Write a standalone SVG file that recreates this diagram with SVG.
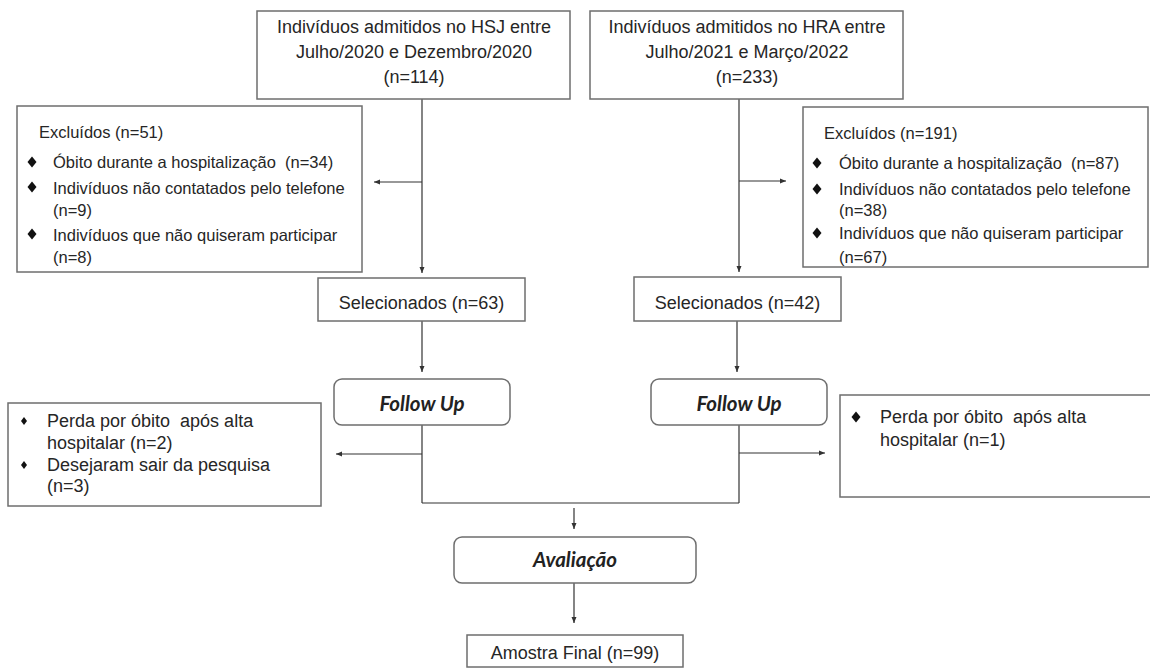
<svg xmlns="http://www.w3.org/2000/svg" width="1150" height="668" viewBox="0 0 1150 668">
<style>
.box{fill:#fff;stroke:#6e6e6e;stroke-width:1.5}
.t{font-family:"Liberation Sans",Arial,sans-serif;fill:#262626;white-space:pre}
.s18{font-size:18px}
.s16{font-size:16.5px}
.c{text-anchor:middle}
.bi{font-family:Lato,"Open Sans",sans-serif;font-weight:bold;font-style:italic;font-size:20.5px;fill:#222;text-anchor:middle}
.ln{fill:none;stroke:#333;stroke-width:1.2}
.ar{marker-end:url(#ah)}
.dm{fill:#111}
</style>
<defs>
<marker id="ah" markerWidth="6" markerHeight="6" refX="6" refY="3" orient="auto" markerUnits="userSpaceOnUse">
<path d="M0,0.5 L6,3 L0,5.5 z" fill="#333"/>
</marker>
<path id="dbig" d="M0,-5.5 L4.5,0 L0,5.5 L-4.5,0 z" class="dm"/>
<path id="dsm" d="M0,-4 L3,0 L0,4 L-3,0 z" class="dm"/>
</defs>

<g id="connectors">
<line class="ln ar" x1="422" y1="99" x2="422" y2="273"/>
<line class="ln ar" x1="422" y1="182" x2="374" y2="182"/>
<line class="ln ar" x1="739" y1="99" x2="739" y2="272"/>
<line class="ln ar" x1="739" y1="181" x2="786" y2="181"/>
<line class="ln ar" x1="422" y1="321" x2="422" y2="372"/>
<line class="ln ar" x1="737" y1="321" x2="737" y2="372"/>
<line class="ln" x1="422" y1="425" x2="422" y2="503"/>
<line class="ln ar" x1="422" y1="454" x2="336" y2="454"/>
<line class="ln" x1="739" y1="425" x2="739" y2="503"/>
<line class="ln ar" x1="739" y1="453" x2="825" y2="453"/>
<line class="ln" x1="422" y1="503" x2="739" y2="503"/>
<line class="ln ar" x1="574" y1="508" x2="574" y2="529"/>
<line class="ln ar" x1="574" y1="583" x2="574" y2="623"/>
</g>

<g id="hsj">
<rect class="box" x="257" y="11" width="313" height="88"/>
<text class="t s18 c" x="414" y="33">Indivíduos admitidos no HSJ entre</text>
<text class="t s18 c" x="414" y="58">Julho/2020 e Dezembro/2020</text>
<text class="t s18 c" x="414" y="83">(n=114)</text>
</g>

<g id="hra">
<rect class="box" x="590" y="11" width="313" height="88"/>
<text class="t s18 c" x="747" y="33">Indivíduos admitidos no HRA entre</text>
<text class="t s18 c" x="747" y="58">Julho/2021 e Março/2022</text>
<text class="t s18 c" x="747" y="83">(n=233)</text>
</g>

<g id="excl-left">
<rect class="box" x="17" y="106" width="345" height="166"/>
<text class="t s16" x="39" y="138">Excluídos (n=51)</text>
<use href="#dbig" x="32" y="162"/>
<use href="#dbig" x="32" y="187"/>
<use href="#dbig" x="32" y="234"/>
<text class="t s16" x="53" y="168" xml:space="preserve">Óbito durante a hospitalização  (n=34)</text>
<text class="t s16" x="53" y="194">Indivíduos não contatados pelo telefone</text>
<text class="t s16" x="53" y="216">(n=9)</text>
<text class="t s16" x="53" y="241">Indivíduos que não quiseram participar</text>
<text class="t s16" x="53" y="263">(n=8)</text>
</g>

<g id="excl-right">
<rect class="box" x="803" y="107" width="345" height="160"/>
<text class="t s16" x="824" y="139">Excluídos (n=191)</text>
<use href="#dbig" x="817" y="163"/>
<use href="#dbig" x="817" y="189"/>
<use href="#dbig" x="817" y="233"/>
<text class="t s16" x="839" y="169" xml:space="preserve">Óbito durante a hospitalização  (n=87)</text>
<text class="t s16" x="839" y="195">Indivíduos não contatados pelo telefone</text>
<text class="t s16" x="839" y="216">(n=38)</text>
<text class="t s16" x="839" y="239">Indivíduos que não quiseram participar</text>
<text class="t s16" x="839" y="263">(n=67)</text>
</g>

<g id="sel-left">
<rect class="box" x="318" y="278" width="207" height="43"/>
<text class="t s18 c" x="421.5" y="309">Selecionados (n=63)</text>
</g>

<g id="sel-right">
<rect class="box" x="634" y="277" width="207" height="44"/>
<text class="t s18 c" x="737.5" y="309">Selecionados (n=42)</text>
</g>

<g id="fu-left">
<rect class="box" x="334" y="379" width="176" height="46" rx="8"/>
<text class="bi" x="422" y="411">Follow Up</text>
</g>

<g id="fu-right">
<rect class="box" x="651" y="379" width="176" height="46" rx="8"/>
<text class="bi" x="739" y="411">Follow Up</text>
</g>

<g id="loss-left">
<rect class="box" x="8" y="403" width="313" height="103"/>
<use href="#dsm" x="24" y="421"/>
<use href="#dsm" x="24" y="465"/>
<text class="t s18" x="47" y="427" xml:space="preserve">Perda por óbito  após alta</text>
<text class="t s18" x="47" y="449">hospitalar (n=2)</text>
<text class="t s18" x="47" y="471">Desejaram sair da pesquisa</text>
<text class="t s18" x="47" y="492">(n=3)</text>
</g>

<g id="loss-right">
<rect class="box" x="840" y="395" width="320" height="102"/>
<use href="#dbig" x="856" y="417"/>
<text class="t s18" x="880" y="423" xml:space="preserve">Perda por óbito  após alta</text>
<text class="t s18" x="880" y="446">hospitalar (n=1)</text>
</g>

<g id="avaliacao">
<rect class="box" x="454" y="537" width="242" height="46" rx="8"/>
<text class="bi" x="575" y="567">Avaliação</text>
</g>

<g id="amostra">
<rect class="box" x="467" y="635" width="216" height="32"/>
<text class="t s18 c" x="575" y="659">Amostra Final (n=99)</text>
</g>
</svg>
